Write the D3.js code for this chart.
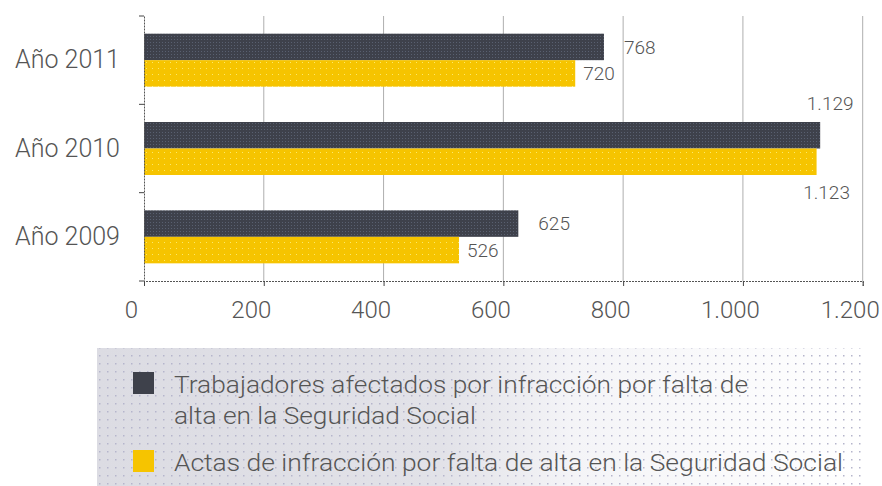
<!DOCTYPE html>
<html>
<head>
<meta charset="utf-8">
<script src="https://cdn.jsdelivr.net/npm/d3@7"></script>
<style>
  body { margin: 0; background: #fff; }
  text { font-family: Roboto, "Liberation Sans", sans-serif; font-weight: 300; fill: #555; }
</style>
</head>
<body>
<div class="chart"></div>
<script>
const categories = ['Año 2011', 'Año 2010', 'Año 2009'];
const trabajadores = [768, 1129, 625];
const actas = [720, 1123, 526];
const xTicks = [0, 200, 400, 600, 800, 1000, 1200];
const legendLines = [
    ['Trabajadores afectados por infracción por falta de', 'alta en la Seguridad Social'],
    ['Actas de infracción por falta de alta en la Seguridad Social']
];

const width = 882;
const height = 486;
const colors = ['#3e414b', '#f6c400'];

const es = d3.formatLocale({decimal: ',', thousands: '.', grouping: [3], currency: ['', ' €']});
const fmt = es.format(',d');

let svg = d3.select('.chart')
    .append('svg')
    .attr('width', width)
    .attr('height', height);

const defs = svg.append('defs');

// bar textures
const darkPat = defs.append('pattern')
    .attr('id', 'darkPat')
    .attr('patternUnits', 'userSpaceOnUse')
    .attr('width', 3).attr('height', 3);
darkPat.append('rect').attr('width', 3).attr('height', 3).attr('fill', colors[0]);
darkPat.append('rect').attr('width', 1).attr('height', 1).attr('fill', '#596070');

const yellowPat = defs.append('pattern')
    .attr('id', 'yellowPat')
    .attr('patternUnits', 'userSpaceOnUse')
    .attr('width', 6).attr('height', 6);
yellowPat.append('rect').attr('width', 6).attr('height', 6).attr('fill', colors[1]);
yellowPat.append('rect').attr('x', 2).attr('y', 2).attr('width', 1).attr('height', 1).attr('fill', '#fbe86a');

// legend background
const legGrad = defs.append('linearGradient').attr('id', 'legGrad');
legGrad.append('stop').attr('offset', '0%').attr('stop-color', '#dcdce3');
legGrad.append('stop').attr('offset', '45%').attr('stop-color', '#e2e2e8');
legGrad.append('stop').attr('offset', '62%').attr('stop-color', '#f4f4f7');
legGrad.append('stop').attr('offset', '100%').attr('stop-color', '#ffffff');

const legDots = defs.append('pattern')
    .attr('id', 'legDots')
    .attr('patternUnits', 'userSpaceOnUse')
    .attr('width', 8).attr('height', 8);
legDots.append('rect').attr('x', 3).attr('y', 3).attr('width', 1.5).attr('height', 1.5).attr('fill', '#b5b5cc');

const xScale = d3.scaleLinear()
    .domain([0, 1200])
    .range([144, 862.7]);

const yScale = d3.scaleBand()
    .domain(categories)
    .range([16, 281])
    .paddingInner(0.4)
    .paddingOuter(0.2);

const bw = yScale.bandwidth() / 2;

// grid
svg.append('g')
    .selectAll('line')
    .data(xTicks.slice(1))
    .enter()
    .append('line')
    .attr('x1', d => xScale(d))
    .attr('x2', d => xScale(d))
    .attr('y1', 16)
    .attr('y2', 281)
    .attr('stroke', '#aeaeae')
    .attr('stroke-width', 1);

// bars
const rows = categories.map((c, i) => ({cat: c, vals: [trabajadores[i], actas[i]]}));
const barData = [];
rows.forEach(r => r.vals.forEach((v, s) => barData.push({cat: r.cat, s: s, v: v})));

svg.append('g')
    .selectAll('rect')
    .data(barData)
    .enter()
    .append('rect')
    .attr('x', xScale(0))
    .attr('y', d => yScale(d.cat) + d.s * bw)
    .attr('width', d => xScale(d.v) - xScale(0))
    .attr('height', bw)
    .attr('fill', d => d.s == 0 ? 'url(#darkPat)' : 'url(#yellowPat)');

// value labels
svg.append('g')
    .selectAll('text')
    .data(barData)
    .enter()
    .append('text')
    .attr('font-size', 19)
    .attr('x', d => {
        if (d.v > 1000) return xScale(d.v) + 10;
        return xScale(d.v) + (d.s == 0 ? 20 : 8);
    })
    .attr('y', d => {
        const top = yScale(d.cat) + d.s * bw;
        if (d.v > 1000) return d.s == 0 ? top - 12 : top + bw + 24;
        return top + bw / 2;
    })
    .attr('dy', d => d.v > 1000 ? 0 : '0.36em')
    .attr('text-anchor', d => d.v > 1000 ? 'middle' : 'start')
    .text(d => fmt(d.v));

// x axis
const x_axis = d3.axisBottom(xScale)
    .tickValues(xTicks)
    .tickFormat(fmt)
    .tickSize(5)
    .tickPadding(15);

const xAxisG = svg.append('g')
    .attr('transform', 'translate(0,281)')
    .call(x_axis);
xAxisG.select('.domain')
    .attr('stroke', '#555')
    .attr('stroke-dasharray', '2,1');
xAxisG.selectAll('.tick line').attr('stroke', '#444');
xAxisG.selectAll('.tick text')
    .attr('dx', -13)
    .attr('font-size', 24)
    .attr('font-family', null)
    .attr('fill', null);

// y axis
const y_axis = d3.axisLeft(yScale)
    .tickSize(0)
    .tickPadding(24);

const yAxisG = svg.append('g')
    .attr('transform', 'translate(144,0)')
    .call(y_axis);
yAxisG.select('.domain')
    .attr('stroke', '#555')
    .attr('stroke-dasharray', '2,1');
yAxisG.selectAll('.tick text')
    .attr('font-size', 25)
    .attr('font-family', null)
    .attr('fill', null);

// category separators on the y axis
const sepY = [16];
for (let i = 1; i < categories.length; i++) {
    sepY.push((yScale(categories[i - 1]) + yScale.bandwidth() + yScale(categories[i])) / 2);
}
sepY.push(281);
yAxisG.selectAll('.sep')
    .data(sepY)
    .enter()
    .append('line')
    .attr('class', 'sep')
    .attr('x1', -5)
    .attr('x2', 0)
    .attr('y1', d => d)
    .attr('y2', d => d)
    .attr('stroke', '#444');

// legend
const legend = svg.append('g');
legend.append('rect')
    .attr('x', 97).attr('y', 348)
    .attr('width', 765).attr('height', 138)
    .attr('fill', 'url(#legGrad)');
legend.append('rect')
    .attr('x', 97).attr('y', 348)
    .attr('width', 765).attr('height', 138)
    .attr('fill', 'url(#legDots)');

const legendY = [372, 450];
const lineLengths = [[574, 302], [669]];
legendLines.forEach((lines, i) => {
    legend.append('rect')
        .attr('x', 133).attr('y', legendY[i])
        .attr('width', 21).attr('height', 22)
        .attr('fill', colors[i]);
    lines.forEach((t, j) => {
        legend.append('text')
            .attr('x', 174)
            .attr('y', legendY[i] + 21 + j * 31)
            .attr('font-size', 24)
            .attr('textLength', lineLengths[i][j])
            .attr('lengthAdjust', 'spacingAndGlyphs')
            .text(t);
    });
});
</script>
</body>
</html>
